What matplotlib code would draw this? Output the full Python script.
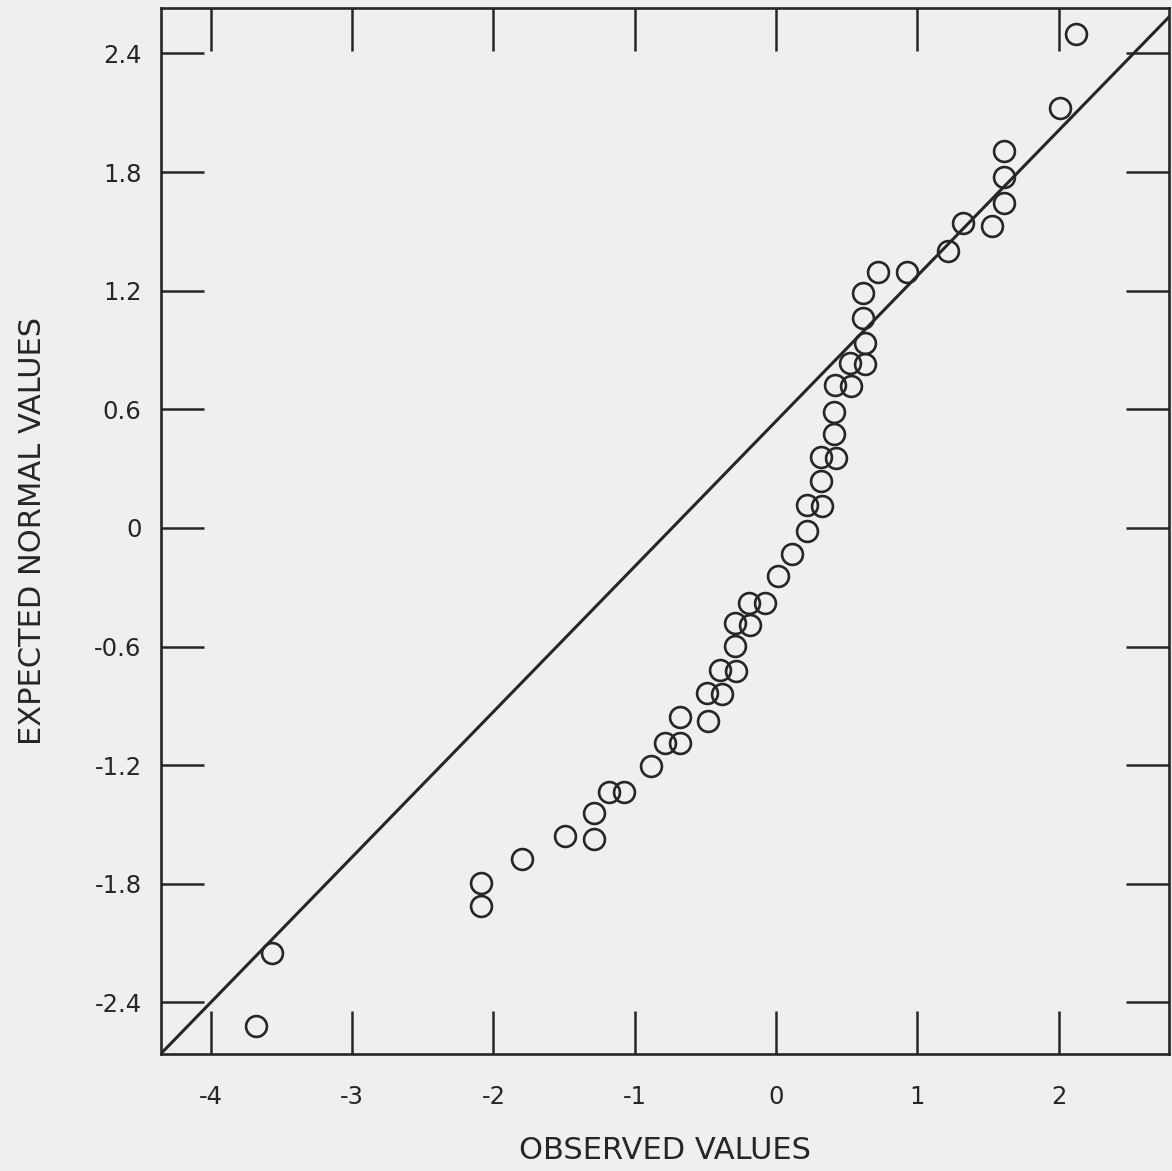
import matplotlib
matplotlib.use("Agg")
import matplotlib.pyplot as plt
import numpy as np

observed = [-3.680, -3.569, -2.088, -2.088, -1.795, -1.491, -1.286, -1.286,
            -1.182, -1.076, -0.887, -0.786, -0.679, -0.679, -0.483, -0.490,
            -0.384, -0.396, -0.285, -0.290, -0.290, -0.184, -0.191, -0.078,
            0.011, 0.115, 0.217, 0.217, 0.328, 0.316, 0.316, 0.425, 0.410,
            0.410, 0.421, 0.531, 0.524, 0.633, 0.630, 0.618, 0.618, 0.724,
            0.929, 1.219, 1.326, 1.531, 1.616, 1.616, 1.616, 2.010, 2.123]
expected = [-2.519, -2.151, -1.796, -1.913, -1.676, -1.558, -1.443, -1.573,
            -1.334, -1.337, -1.204, -1.086, -1.089, -0.958, -0.975, -0.836,
            -0.840, -0.718, -0.722, -0.597, -0.479, -0.491, -0.378, -0.381,
            -0.243, -0.132, -0.014, 0.116, 0.113, 0.239, 0.358, 0.353, 0.475,
            0.588, 0.723, 0.716, 0.832, 0.827, 0.937, 1.061, 1.187, 1.296,
            1.296, 1.403, 1.541, 1.528, 1.642, 1.777, 1.907, 2.123, 2.499]

# Reference line (intercept, slope)
line_intercept = 0.54
line_slope = 0.735

x_ticks = [-4, -3, -2, -1, 0, 1, 2]
x_tick_labels = ["-4", "-3", "-2", "-1", "0", "1", "2"]
y_ticks = [2.4, 1.8, 1.2, 0.6, 0, -0.6, -1.2, -1.8, -2.4]
y_tick_labels = ["2.4", "1.8", "1.2", "0.6", "0", "-0.6", "-1.2", "-1.8", "-2.4"]

ink = "#262626"
bg = "#efefef"

plt.rcParams["font.family"] = ["DejaVu Sans"]

fig = plt.figure(figsize=(11.72, 11.71), dpi=100, facecolor=bg)
ax = fig.add_axes([0.1374, 0.0999, 0.9974 - 0.1374, 0.9932 - 0.0999])
ax.set_facecolor(bg)

xlim = (-4.352, 2.781)
ylim = (-2.661, 2.630)
ax.set_xlim(*xlim)
ax.set_ylim(*ylim)

xs = np.array(xlim)
ax.plot(xs, line_intercept + line_slope * xs, color=ink, lw=2.2, zorder=2)

ax.plot(observed, expected, linestyle="none", marker="o", markersize=15,
        markerfacecolor="none", markeredgecolor=ink, markeredgewidth=1.9,
        zorder=3)

for s in ax.spines.values():
    s.set_color(ink)
    s.set_linewidth(1.9)

ax.set_xticks(x_ticks)
ax.set_xticklabels(x_tick_labels)
ax.set_yticks(y_ticks)
ax.set_yticklabels(y_tick_labels)
ax.tick_params(axis="both", direction="in", length=31, width=1.8, color=ink,
               top=True, right=True, labelsize=17.5, labelcolor=ink)
ax.tick_params(axis="x", pad=22)
ax.tick_params(axis="y", pad=14)

ax.set_xlabel("OBSERVED VALUES", fontsize=22, color=ink, labelpad=20)
ax.set_ylabel("EXPECTED NORMAL VALUES", fontsize=22, color=ink, labelpad=34)

fig.savefig("out.png", dpi=100, facecolor=bg)
